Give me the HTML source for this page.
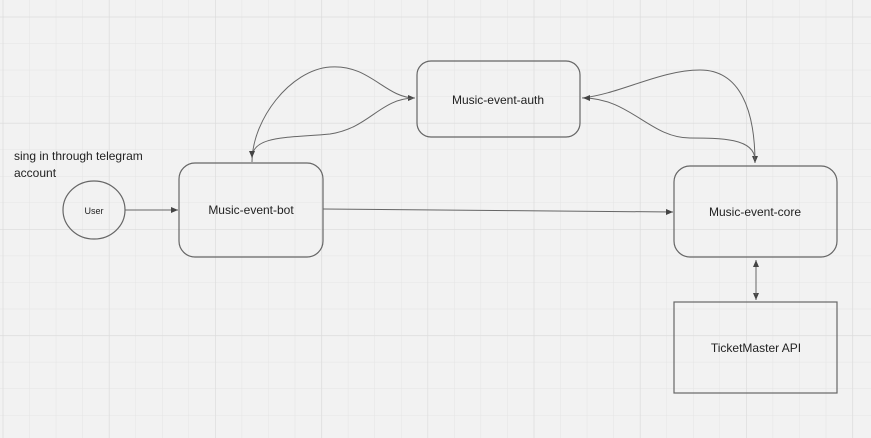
<!DOCTYPE html>
<html><head><meta charset="utf-8"><style>
html,body{margin:0;padding:0;background:#f2f2f2;}
svg{display:block;font-family:"Liberation Sans",sans-serif;}
</style></head><body>
<svg width="871" height="438" viewBox="0 0 871 438" xmlns="http://www.w3.org/2000/svg">
<defs>
<pattern id="g" x="2.7" y="16.7" width="26.55" height="26.55" patternUnits="userSpaceOnUse">
<path d="M0 0V26.55M0 0H26.55" stroke="#e4e4e4" stroke-width="1" fill="none"/>
</pattern>
<pattern id="G" x="108.9" y="16.7" width="106.2" height="106.2" patternUnits="userSpaceOnUse">
<path d="M0 0V106.2M0 0H106.2" stroke="#dcdcdc" stroke-width="1.3" fill="none"/>
</pattern>
<marker id="a" markerWidth="8" markerHeight="8" refX="7" refY="4" orient="auto" markerUnits="userSpaceOnUse">
<path d="M0 1L7 4L0 7z" fill="#444"/>
</marker>
</defs>
<rect width="871" height="438" fill="#f2f2f2"/>
<rect width="871" height="438" fill="url(#g)"/>
<rect width="871" height="438" fill="url(#G)"/>
<g stroke="#666" stroke-width="1.2" fill="none">
<rect x="179" y="163" width="144" height="94" rx="16"/>
<rect x="417" y="61" width="163" height="76" rx="14"/>
<rect x="674" y="166" width="163" height="91" rx="16"/>
<rect x="674" y="302" width="163" height="91"/>
<ellipse cx="94" cy="210" rx="31" ry="29"/>
</g>
<g stroke="#666" stroke-width="1" fill="none">
<path d="M125 210H178" marker-end="url(#a)"/>
<path d="M323 209C450 209 550 212 673 212" marker-end="url(#a)"/>
<path d="M252 162C252 120 290 70 330 67C370 64 385 98 415 98" marker-end="url(#a)"/>
<path d="M415 98C380 98 370 128 330 134C290 138 252 135 252 158" marker-end="url(#a)"/>
<path d="M582 98C620 94 660 70 700 70C740 70 755 110 755 163" marker-end="url(#a)"/>
<path d="M755 160C755 138 720 138 690 138C650 138 630 98 583 98" marker-end="url(#a)"/>
<path d="M756 265V300" marker-end="url(#a)"/>
<path d="M756 295V260" marker-end="url(#a)"/>
</g>
<g fill="#222" font-size="12" text-anchor="middle">
<text x="251" y="214">Music-event-bot</text>
<text x="498" y="104">Music-event-auth</text>
<text x="755" y="216">Music-event-core</text>
<text x="756" y="352">TicketMaster API</text>
<text x="94" y="214" font-size="9">User</text>
</g>
<g fill="#222" font-size="12">
<text x="14" y="160">sing in through telegram</text>
<text x="14" y="177">account</text>
</g>
</svg>
</body></html>
